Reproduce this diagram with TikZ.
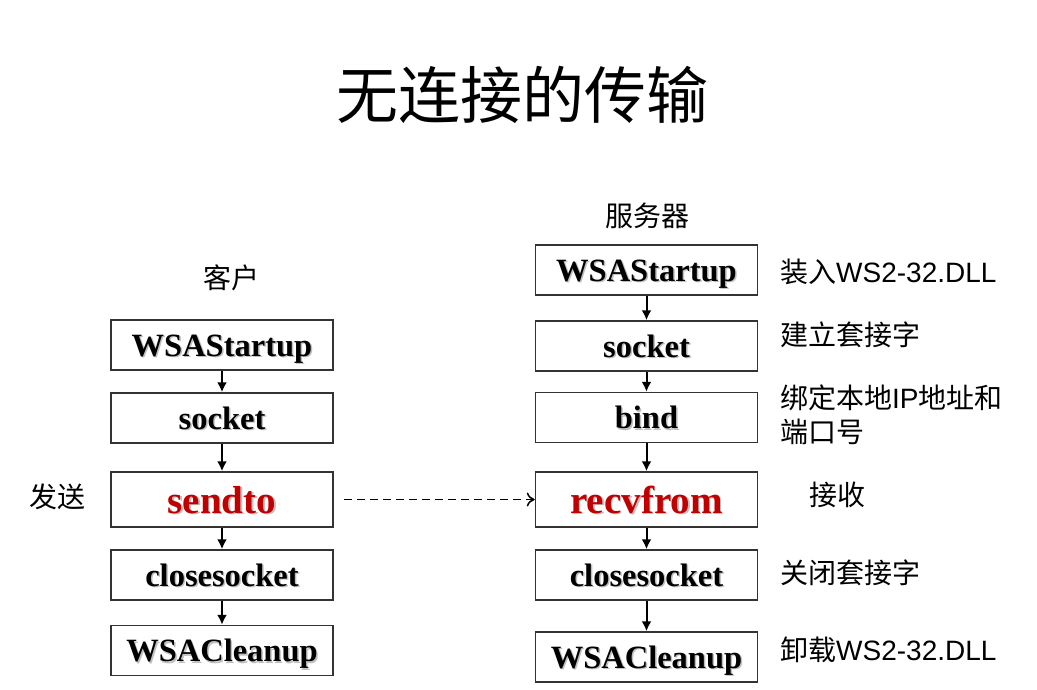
\documentclass[tikz,border=0pt]{standalone}
\usepackage{fontspec}
\setmainfont{Liberation Serif}
\newfontfamily\arialfont{Liberation Sans}
\newfontfamily\cjk{Noto Sans CJK SC}
\usetikzlibrary{arrows.meta, positioning}

\definecolor{callred}{HTML}{C00000}
\definecolor{boxline}{HTML}{333333}

% text with a soft drop shadow, as in the slide
\newcommand\shadowed[1]{\makebox[0pt][l]{\hspace{1.5pt}\raisebox{-1.5pt}{\textcolor{black!25}{#1}}}#1}

\begin{document}
\begin{tikzpicture}[x=1pt, y=-1pt,
    callbox/.style={draw=boxline, line width=1.5pt, minimum width=222pt, minimum height=50pt,
                    inner sep=0pt, text height=24pt, text depth=2pt,
                    font=\bfseries\fontsize{32.5}{34}\selectfont},
    mainbox/.style={callbox, minimum height=55pt, text=callred, text height=30pt, text depth=3pt,
                    font=\bfseries\fontsize{39}{40}\selectfont},
    note/.style={anchor=west, inner sep=0pt, font=\arialfont\fontsize{28}{34}\selectfont},
    side/.style={inner sep=0pt, font=\cjk\fontsize{28}{34}\selectfont}]

\useasboundingbox (0,0) rectangle (1037,689);

\node (title) at (522, 95) [inner sep=0pt, font=\cjk\fontsize{62}{64}\selectfont] {无连接的传输};

% client side
\node (client) at (231, 278) [side] {客户};
\node (ws1) at (222, 345) [callbox] {\shadowed{WSAStartup}};
\node (so1) at (222, 418) [callbox] {\shadowed{socket}};
\node (se) at (222, 499.5) [mainbox] {\shadowed{sendto}};
\node (cl1) at (222, 575) [callbox] {\shadowed{closesocket}};
\node (cu1) at (222, 650.5) [callbox] {\shadowed{WSACleanup}};
\node (send) at (57, 497) [side] {发送};

% server side
\node (server) at (647, 216) [side] {服务器};
\node (ws2) at (646.5, 270) [callbox] {\shadowed{WSAStartup}};
\node (so2) at (646.5, 346) [callbox] {\shadowed{socket}};
\node (bi) at (646.5, 417.5) [callbox] {\shadowed{bind}};
\node (rf) at (646.5, 499.5) [mainbox] {\shadowed{recvfrom}};
\node (cl2) at (646.5, 575) [callbox] {\shadowed{closesocket}};
\node (cu2) at (646.5, 657) [callbox] {\shadowed{WSACleanup}};
\node (recv) at (837, 495) [side] {接收};

% notes on the right
\node (n1) at (780, 272) [note] {{\cjk 装入}WS2-32.DLL};
\node (n2) at (780, 335) [note] {\cjk 建立套接字};
\node (n3) at (780, 415) [note, align=left] {{\cjk 绑定本地}IP{\cjk 地址和}\\{\cjk 端口号}};
\node (n4) at (780, 573) [note] {\cjk 关闭套接字};
\node (n5) at (780, 650) [note] {{\cjk 卸载}WS2-32.DLL};

\begin{scope}[every edge/.style={draw, line width=2pt, -{Latex[length=10pt, width=10pt]}}]
    \path (ws1) edge (so1);
    \path (so1) edge (se);
    \path (se) edge (cl1);
    \path (cl1) edge (cu1);

    \path (ws2) edge (so2);
    \path (so2) edge (bi);
    \path (bi) edge (rf);
    \path (rf) edge (cl2);
    \path (cl2) edge (cu2);
\end{scope}

\draw [-{To[length=8pt, width=14pt]}, dash pattern=on 8pt off 5pt, line width=1.5pt,
       shorten <=10pt] (se) -- (rf);

\end{tikzpicture}
\end{document}
